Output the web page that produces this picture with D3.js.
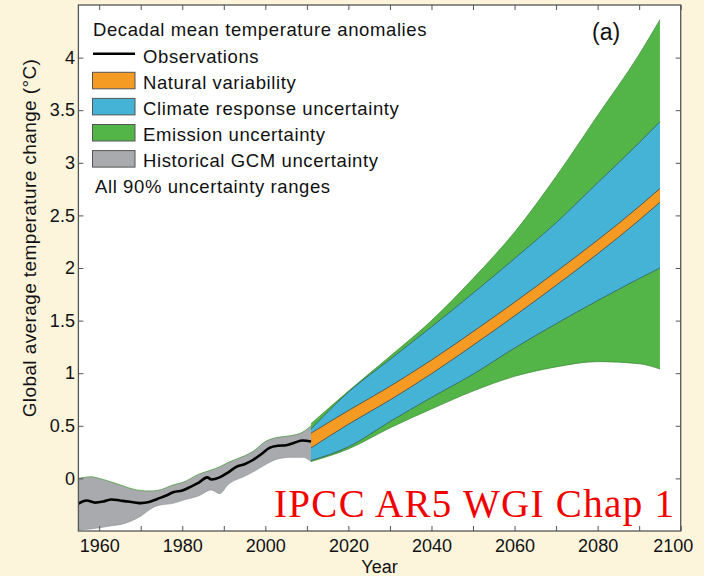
<!DOCTYPE html>
<html>
<head>
<meta charset="utf-8">
<script src="https://cdn.jsdelivr.net/npm/d3@7"></script>
<style>
body { margin: 0; background: #fdf4dc; }
text { font-family: "Liberation Sans", Arial, sans-serif; }
</style>
</head>
<body>
<div id="chart"></div>
<script>
// decadal mean observations
var obsYears = [1955, 1957, 1959, 1961, 1963, 1965, 1967, 1969, 1970, 1972, 1974, 1976, 1978, 1980, 1982, 1984, 1986, 1987, 1989, 1991, 1993, 1995, 1997, 1999, 2001, 2003, 2005, 2007, 2009, 2011];
var obsValues = [-0.24, -0.21, -0.23, -0.22, -0.2, -0.21, -0.22, -0.232, -0.235, -0.225, -0.195, -0.165, -0.13, -0.115, -0.08, -0.04, 0.01, -0.01, 0.01, 0.055, 0.11, 0.135, 0.175, 0.23, 0.29, 0.31, 0.315, 0.34, 0.36, 0.35];

// historical GCM uncertainty
var histYears = [1955, 1958, 1960, 1963, 1966, 1968, 1970, 1972, 1974, 1978, 1980, 1984, 1987, 1989, 1991, 1995, 1997, 2000, 2003, 2006, 2009, 2011];
var histUpper = [0.0, 0.015, 0.0, -0.035, -0.075, -0.1, -0.115, -0.12, -0.115, -0.06, -0.04, 0.04, 0.08, 0.11, 0.15, 0.215, 0.255, 0.35, 0.39, 0.405, 0.44, 0.5];
var histLower = [-0.49, -0.48, -0.47, -0.45, -0.43, -0.4, -0.36, -0.3, -0.26, -0.235, -0.21, -0.165, -0.11, -0.145, -0.06, 0.02, 0.06, 0.13, 0.185, 0.2, 0.2, 0.16];

// projections
var projYears = [2011, 2020, 2030, 2040, 2050, 2060, 2070, 2080, 2090, 2095];
var emisUpper = [0.52, 0.83, 1.16, 1.5, 1.9, 2.34, 2.87, 3.45, 4.03, 4.36];
var climUpper = [0.47, 0.82, 1.13, 1.44, 1.76, 2.09, 2.43, 2.81, 3.19, 3.39];
var natUpper = [0.43, 0.645, 0.875, 1.125, 1.395, 1.675, 1.965, 2.265, 2.585, 2.755];
var natLower = [0.29, 0.515, 0.745, 0.995, 1.265, 1.545, 1.835, 2.135, 2.455, 2.625];
var climLower = [0.17, 0.3, 0.54, 0.77, 0.99, 1.24, 1.47, 1.69, 1.9, 2.0];
var emisLower = [0.16, 0.28, 0.48, 0.66, 0.83, 0.97, 1.06, 1.11, 1.09, 1.04];

var xTicks = [1960, 1970, 1980, 1990, 2000, 2010, 2020, 2030, 2040, 2050, 2060, 2070, 2080, 2090, 2100];
var yTicks = [0, 0.5, 1, 1.5, 2, 2.5, 3, 3.5, 4];

var legendLabels = ["Observations", "Natural variability", "Climate response uncertainty", "Emission uncertainty", "Historical GCM uncertainty"];
var legendColors = [null, "#f59a23", "#45b3d6", "#53b548", "#a8aaad"];

var width = 704, height = 576;
var plot = { left: 78.4, right: 680.7, top: 5, bottom: 531 };

var svg = d3.select("#chart")
    .append("svg")
    .attr("width", width)
    .attr("height", height);

svg.append("rect")
    .attr("width", width)
    .attr("height", height)
    .attr("fill", "#fdf4dc");

svg.append("rect")
    .attr("x", plot.left)
    .attr("y", plot.top)
    .attr("width", plot.right - plot.left)
    .attr("height", plot.bottom - plot.top)
    .attr("fill", "white");

var x = d3.scaleLinear().domain([1955, 2100]).range([plot.left, plot.right]);
var y = d3.scaleLinear().domain([-0.5, 4.5]).range([plot.bottom, plot.top]);

function band(years, lo, hi) {
    return years.map(function (yr, i) { return { year: yr, lo: lo[i], hi: hi[i] }; });
}

var area = d3.area()
    .x(function (d) { return x(d.year); })
    .y0(function (d) { return y(d.lo); })
    .y1(function (d) { return y(d.hi); })
    .curve(d3.curveMonotoneX);
var edgeHi = d3.line()
    .x(function (d) { return x(d.year); })
    .y(function (d) { return y(d.hi); })
    .curve(d3.curveMonotoneX);
var edgeLo = d3.line()
    .x(function (d) { return x(d.year); })
    .y(function (d) { return y(d.lo); })
    .curve(d3.curveMonotoneX);

// historical band
var hist = band(histYears, histLower, histUpper);
svg.append("path").datum(hist)
    .attr("d", area)
    .attr("fill", "#a8aaad");
svg.append("path").datum(hist)
    .attr("d", edgeHi)
    .attr("fill", "none")
    .attr("stroke", "#4f9e45")
    .attr("stroke-width", 0.8);
svg.append("path").datum(hist)
    .attr("d", edgeLo)
    .attr("fill", "none")
    .attr("stroke", "#8d8f92")
    .attr("stroke-width", 0.6);

// projection bands, widest first
var layers = [
    { lo: emisLower, hi: emisUpper, fill: "#53b548", edge: "#3d8a36" },
    { lo: climLower, hi: climUpper, fill: "#45b3d6", edge: "#35535a" },
    { lo: natLower, hi: natUpper, fill: "#f59a23", edge: "#3a3a3a" }
];
layers.forEach(function (l) {
    var b = band(projYears, l.lo, l.hi);
    svg.append("path").datum(b)
        .attr("d", area)
        .attr("fill", l.fill);
    svg.append("path").datum(b)
        .attr("d", edgeHi)
        .attr("fill", "none")
        .attr("stroke", l.edge)
        .attr("stroke-width", 0.7);
    svg.append("path").datum(b)
        .attr("d", edgeLo)
        .attr("fill", "none")
        .attr("stroke", l.edge)
        .attr("stroke-width", 0.7);
});

// observations
var obsLine = d3.line()
    .x(function (d, i) { return x(obsYears[i]); })
    .y(function (d) { return y(d); })
    .curve(d3.curveMonotoneX);
svg.append("path").datum(obsValues)
    .attr("d", obsLine)
    .attr("fill", "none")
    .attr("stroke", "#000")
    .attr("stroke-width", 2.6);

// axes, ticks pointing inward
var xAxis = svg.append("g")
    .attr("transform", "translate(0," + plot.bottom + ")")
    .call(d3.axisBottom(x).tickValues(xTicks).tickSizeInner(-5).tickSizeOuter(0).tickPadding(8)
        .tickFormat(function (d) { return d % 20 === 0 ? d : ""; }));
xAxis.selectAll(".tick text").filter(function (d) { return d === 2100; }).attr("dx", -8);

var yAxis = svg.append("g")
    .attr("transform", "translate(" + plot.left + ",0)")
    .call(d3.axisLeft(y).tickValues(yTicks).tickSizeInner(-5).tickSizeOuter(0).tickPadding(3.5)
        .tickFormat(function (d) { return String(d); }));

var topAxis = svg.append("g")
    .attr("transform", "translate(0," + plot.top + ")")
    .call(d3.axisTop(x).tickValues(xTicks).tickSizeInner(-5).tickSizeOuter(0).tickFormat(""));

var rightAxis = svg.append("g")
    .attr("transform", "translate(" + plot.right + ",0)")
    .call(d3.axisRight(y).tickValues(yTicks).tickSizeInner(-5).tickSizeOuter(0).tickFormat(""));

[xAxis, yAxis, topAxis, rightAxis].forEach(function (g) {
    g.select(".domain").remove();
    g.selectAll(".tick line").attr("stroke", "#555").attr("stroke-width", 1);
    g.selectAll(".tick text")
        .attr("font-size", "18px")
        .attr("fill", "#111");
});

svg.append("rect")
    .attr("x", plot.left)
    .attr("y", plot.top)
    .attr("width", plot.right - plot.left)
    .attr("height", plot.bottom - plot.top)
    .attr("fill", "none")
    .attr("stroke", "#555")
    .attr("stroke-width", 1.3);

// axis titles
svg.append("text")
    .attr("x", 379.5)
    .attr("y", 572.5)
    .attr("text-anchor", "middle")
    .attr("font-size", "18px")
    .attr("fill", "#111")
    .text("Year");

svg.append("text")
    .attr("transform", "translate(35.5,238) rotate(-90)")
    .attr("text-anchor", "middle")
    .attr("font-size", "19px")
    .attr("letter-spacing", "0.4px")
    .attr("fill", "#111")
    .text("Global average temperature change (°C)");

svg.append("text")
    .attr("x", 592)
    .attr("y", 40)
    .attr("font-size", "23px")
    .attr("fill", "#111")
    .text("(a)");

// legend
var legend = svg.append("g").attr("font-size", "18.5px").attr("letter-spacing", "0.6px").attr("fill", "#111");
legend.append("text")
    .attr("x", 93)
    .attr("y", 35.7)
    .text("Decadal mean temperature anomalies");

var rowStep = 26.1, firstBase = 62.7;
legendLabels.forEach(function (label, i) {
    var base = firstBase + i * rowStep;
    if (legendColors[i] === null) {
        legend.append("line")
            .attr("x1", 93).attr("x2", 135)
            .attr("y1", base - 9).attr("y2", base - 9)
            .attr("stroke", "#000")
            .attr("stroke-width", 2.6);
    } else {
        legend.append("rect")
            .attr("x", 92.5)
            .attr("y", base - 16.5)
            .attr("width", 42.5)
            .attr("height", 16.5)
            .attr("fill", legendColors[i])
            .attr("stroke", "#555")
            .attr("stroke-width", 1);
    }
    legend.append("text")
        .attr("x", 143)
        .attr("y", base)
        .text(label);
});
legend.append("text")
    .attr("x", 95)
    .attr("y", firstBase + 5 * rowStep)
    .text("All 90% uncertainty ranges");

svg.append("text")
    .attr("x", 274)
    .attr("y", 516.7)
    .style("font-family", "'Liberation Serif', 'Times New Roman', serif")
    .attr("font-size", "39px")
    .attr("textLength", 400)
    .attr("lengthAdjust", "spacing")
    .attr("fill", "#f20000")
    .text("IPCC AR5 WGI Chap 1");
</script>
</body>
</html>
